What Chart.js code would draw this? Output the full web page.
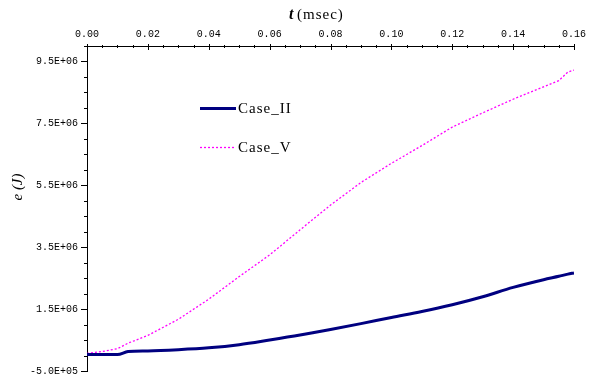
<!DOCTYPE html>
<html lang="en">
<head>
    <meta charset="UTF-8">
    <title>Energy vs time</title>
    <script src="https://cdn.jsdelivr.net/npm/chart.js@4.4.1/dist/chart.umd.min.js"></script>
    <style>
        html, body { margin: 0; padding: 0; background: #ffffff; }
        #chart { display: block; }
    </style>
</head>
<body>
    <canvas id="chart" width="589" height="376"></canvas>
    <script>
        // time in msec
        const timeValues = [0, 0.005, 0.010, 0.0135, 0.02, 0.03, 0.04, 0.05, 0.06, 0.07,
                            0.08, 0.09, 0.10, 0.11, 0.12, 0.13, 0.14, 0.15, 0.155, 0.158, 0.16];
        // e (J)
        const caseII = [3e4, 3e4, 3e4, 1.3e5, 1.5e5, 1.9e5, 2.5e5, 3.5e5, 5.0e5, 6.6e5,
                        8.4e5, 1.03e6, 1.23e6, 1.42e6, 1.64e6, 1.9e6, 2.2e6, 2.45e6, 2.56e6, 2.63e6, 2.67e6];
        const caseV = [7e4, 1.3e5, 2.2e5, 4.0e5, 6.5e5, 1.17e6, 1.82e6, 2.55e6, 3.25e6, 4.06e6,
                       4.86e6, 5.59e6, 6.21e6, 6.78e6, 7.38e6, 7.84e6, 8.28e6, 8.68e6, 8.88e6, 9.16e6, 9.22e6];
        const seriesNames = ['Case_II', 'Case_V'];
        const xTickLabels = ['0.00', '0.02', '0.04', '0.06', '0.08', '0.10', '0.12', '0.14', '0.16'];
        const yTickLabels = ['-5.0E+05', '1.5E+06', '3.5E+06', '5.5E+06', '7.5E+06', '9.5E+06'];

        const tickFont = { family: 'Liberation Mono', size: 10 };

        function toPoints(ys) {
            return timeValues.map((t, i) => ({ x: t, y: ys[i] }));
        }

        function isMultiple(v, step) {
            const r = v / step;
            return Math.abs(r - Math.round(r)) < 1e-6;
        }

        // tick marks: long for labelled ticks, short for the others
        const tickMarks = {
            id: 'tickMarks',
            afterDraw(chart) {
                const ctx = chart.ctx;
                const xs = chart.scales.x;
                const ys = chart.scales.y;
                ctx.save();
                ctx.strokeStyle = '#000';
                ctx.lineWidth = 1;
                xs.ticks.forEach(t => {
                    const px = Math.round(xs.getPixelForValue(t.value)) + 0.5;
                    const major = t.label !== '';
                    ctx.beginPath();
                    ctx.moveTo(px, xs.bottom - (major ? 2 : 1));
                    ctx.lineTo(px, xs.bottom + (major ? 4 : 2));
                    ctx.stroke();
                });
                ys.ticks.forEach(t => {
                    const py = Math.round(ys.getPixelForValue(t.value)) + 0.5;
                    const major = t.label !== '';
                    ctx.beginPath();
                    ctx.moveTo(ys.right - (major ? 6 : 3), py);
                    ctx.lineTo(ys.right + 1, py);
                    ctx.stroke();
                });
                ctx.restore();
            }
        };

        // axis titles and the legend inside the plot
        const annotations = {
            id: 'annotations',
            afterDraw(chart) {
                const ctx = chart.ctx;
                const ds = chart.data.datasets;
                ctx.save();
                ctx.fillStyle = '#000';
                ctx.textBaseline = 'alphabetic';

                // x title
                ctx.font = 'italic bold 16px "Liberation Serif"';
                ctx.fillText('t', 289, 19);
                ctx.font = '15px "Liberation Serif"';
                ctx.letterSpacing = '1px';
                ctx.fillText('(msec)', 297, 19);

                // y title
                ctx.translate(22, 187);
                ctx.rotate(-Math.PI / 2);
                ctx.textAlign = 'center';
                ctx.letterSpacing = '0px';
                ctx.font = 'italic 15px "Liberation Serif"';
                ctx.fillText('e (J)', 0, 0);
                ctx.setTransform(1, 0, 0, 1, 0, 0);

                // legend
                const rows = [108, 147];
                ds.forEach((d, i) => {
                    const y = rows[i] + 0.5;
                    ctx.strokeStyle = d.borderColor;
                    ctx.lineWidth = d.borderWidth;
                    ctx.setLineDash(d.borderDash || []);
                    ctx.beginPath();
                    ctx.moveTo(200, y);
                    ctx.lineTo(236, y);
                    ctx.stroke();
                    ctx.setLineDash([]);
                    ctx.fillStyle = '#000';
                    ctx.textAlign = 'left';
                    ctx.letterSpacing = '1px';
                    ctx.font = '15px "Liberation Serif"';
                    ctx.fillText(d.label, 238, rows[i] + 5);
                });
                ctx.restore();
            }
        };

        const ctx = document.getElementById('chart').getContext('2d');
        new Chart(ctx, {
            type: 'line',
            data: {
                datasets: [
                    {
                        label: seriesNames[0],
                        data: toPoints(caseII),
                        borderColor: '#000080',
                        borderWidth: 3,
                        pointRadius: 0,
                        cubicInterpolationMode: 'monotone',
                        fill: false
                    },
                    {
                        label: seriesNames[1],
                        data: toPoints(caseV),
                        borderColor: '#ff00ff',
                        borderWidth: 1.3,
                        borderDash: [2, 2],
                        pointRadius: 0,
                        tension: 0,
                        fill: false
                    }
                ]
            },
            options: {
                responsive: false,
                animation: false,
                devicePixelRatio: 1,
                layout: { padding: { left: 0, right: 15, top: 0, bottom: 5 } },
                plugins: {
                    legend: { display: false },
                    tooltip: { enabled: false }
                },
                scales: {
                    x: {
                        type: 'linear',
                        position: 'top',
                        min: 0,
                        max: 0.16,
                        afterFit(scale) { scale.height = 46; },
                        grid: { drawOnChartArea: false, tickLength: 4, tickColor: 'rgba(0,0,0,0)' },
                        border: { display: true, color: '#000', width: 1 },
                        ticks: {
                            stepSize: 0.005,
                            autoSkip: false,
                            maxRotation: 0,
                            padding: 2,
                            color: '#000',
                            font: tickFont,
                            callback: v => isMultiple(v, 0.02) ? xTickLabels[Math.round(v / 0.02)] : ''
                        }
                    },
                    y: {
                        min: -5e5,
                        max: 1e7,
                        afterFit(scale) {
                            scale.width = 87;
                            scale.paddingBottom = 0;
                        },
                        grid: { drawOnChartArea: false, tickLength: 6, tickColor: 'rgba(0,0,0,0)' },
                        border: { display: true, color: '#000', width: 1 },
                        ticks: {
                            stepSize: 5e5,
                            autoSkip: false,
                            padding: 3,
                            color: '#000',
                            font: tickFont,
                            callback: v => isMultiple(v + 5e5, 2e6) ? yTickLabels[Math.round((v + 5e5) / 2e6)] : ''
                        }
                    }
                }
            },
            plugins: [tickMarks, annotations]
        });
    </script>
</body>
</html>
